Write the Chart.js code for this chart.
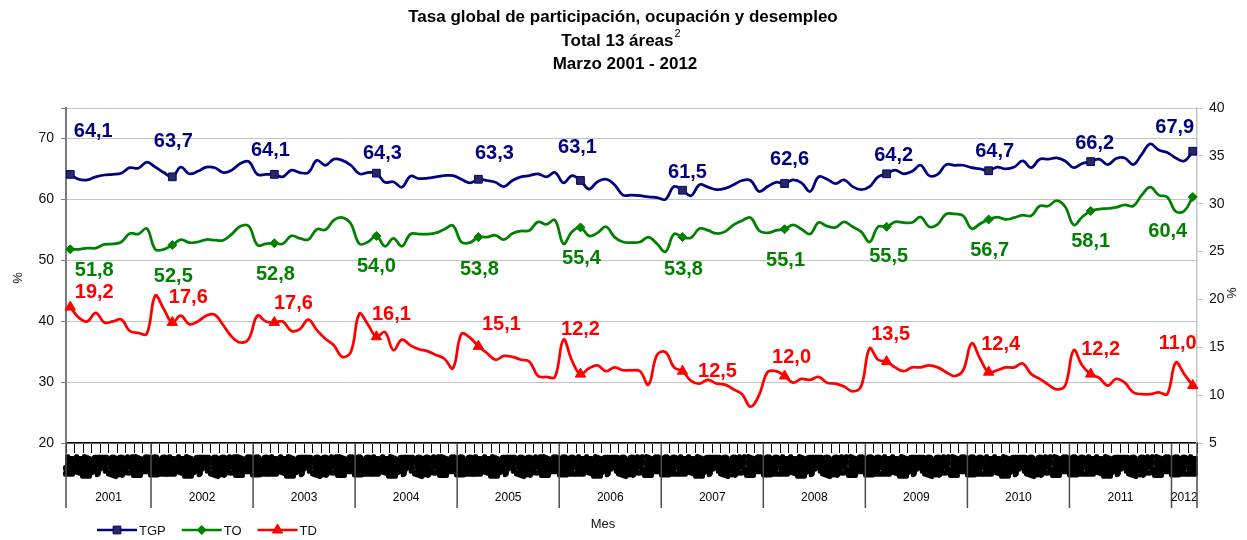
<!DOCTYPE html>
<html>
<head>
<meta charset="utf-8">
<title>Tasa global de participación, ocupación y desempleo</title>
<script src="https://cdn.jsdelivr.net/npm/chart.js@4/dist/chart.umd.min.js"></script>
<style>
    body { margin: 0; background: #ffffff; }
    #wrap { width: 1247px; height: 540px; }
</style>
</head>
<body>
<div id="wrap"><canvas id="chart" width="1247" height="540"></canvas></div>
<script>
    // Month names used for the (unreadable) monthly tick labels
    var monthNames = ['Ene', 'Feb', 'Mar', 'Abr', 'May', 'Jun', 'Jul', 'Ago', 'Sep', 'Oct', 'Nov', 'Dic'];
    var yearNames = ['2001', '2002', '2003', '2004', '2005', '2006', '2007', '2008', '2009', '2010', '2011', '2012'];

    // Series, monthly from Marzo 2001 to Marzo 2012 (133 months)
    var tgp = [
        64.1, 63.3, 63.2, 63.7, 64.0, 64.1, 64.3, 65.2, 65.1, 66.1, 65.3, 64.4,
        63.7, 65.3, 64.2, 64.6, 65.3, 65.2, 64.4, 64.8, 65.9, 66.2, 64.1, 64.1,
        64.1, 63.7, 64.8, 64.4, 64.4, 66.4, 65.6, 66.6, 66.4, 65.6, 64.2, 64.4,
        64.3, 62.8, 62.9, 62.0, 63.8, 63.4, 63.5, 63.7, 63.9, 63.9, 63.3, 62.7,
        63.3, 63.1, 62.8, 62.1, 63.1, 63.7, 63.9, 64.2, 63.7, 64.4, 62.7, 63.9,
        63.1, 61.7, 62.9, 63.3, 62.4, 60.7, 60.7, 60.6, 60.4, 60.3, 60.0, 62.1,
        61.5, 60.6, 62.4, 62.0, 61.6, 61.8, 62.4, 63.1, 63.1, 61.3, 62.1, 62.8,
        62.6, 63.2, 62.7, 61.3, 63.7, 63.3, 62.6, 63.2, 62.1, 61.6, 62.1, 63.7,
        64.2, 64.8, 64.2, 64.6, 65.6, 63.9, 64.1, 65.7, 65.6, 65.6, 65.2, 65.0,
        64.7, 65.3, 65.0, 65.3, 66.3, 65.2, 66.6, 66.6, 66.8, 66.3, 65.2, 65.9,
        66.2, 66.6, 65.7, 66.7, 66.8, 65.7, 67.4, 69.1, 68.1, 67.7, 66.8, 66.3,
        67.9
    ];
    var to = [
        51.8, 51.8, 52.0, 52.0, 52.6, 52.7, 53.0, 54.4, 54.3, 55.2, 51.8, 51.8,
        52.5, 53.4, 52.9, 53.0, 53.4, 53.3, 53.3, 54.3, 55.6, 55.6, 52.5, 52.7,
        52.8, 52.7, 54.0, 53.6, 53.4, 55.1, 55.0, 56.6, 57.0, 56.0, 52.7, 53.0,
        54.0, 52.3, 53.6, 52.3, 54.3, 54.3, 54.3, 54.5, 55.1, 55.7, 53.0, 52.9,
        53.8, 53.8, 54.1, 53.4, 54.4, 54.8, 54.9, 56.3, 55.9, 56.6, 52.7, 54.7,
        55.4, 54.0, 54.5, 55.5, 53.8, 53.0, 52.9, 53.0, 53.8, 52.7, 51.4, 54.3,
        53.8, 53.7, 55.2, 54.9, 54.4, 54.7, 55.8, 56.5, 57.0, 54.9, 54.5, 54.9,
        55.1, 55.8, 55.1, 54.3, 56.2, 55.6, 55.4, 56.3, 55.5, 54.7, 53.0, 55.5,
        55.5, 56.3, 56.2, 56.2, 57.1, 55.5, 55.9, 57.6, 57.6, 57.3, 55.2, 56.0,
        56.7, 57.1, 56.7, 57.0, 57.4, 57.3, 58.9, 58.9, 59.8, 58.8, 55.8, 57.1,
        58.1, 58.4, 58.5, 58.7, 59.1, 58.9, 60.7, 62.0, 60.7, 60.4, 58.0, 58.1,
        60.4
    ];
    var td = [
        19.2, 18.1, 17.7, 18.6, 17.6, 17.7, 17.9, 16.7, 16.5, 16.4, 20.4, 19.0,
        17.6, 18.3, 17.4, 17.7, 18.3, 18.4, 17.3, 16.1, 15.5, 15.9, 18.3, 17.7,
        17.6, 17.7, 16.7, 16.9, 17.9, 16.8, 15.9, 15.2, 14.0, 14.5, 18.5, 17.4,
        16.1, 16.6, 14.7, 15.8, 15.2, 14.8, 14.6, 14.2, 13.8, 12.8, 16.4, 16.0,
        15.1, 14.4, 13.7, 14.1, 14.0, 13.7, 13.5, 12.0, 11.9, 11.9, 15.8, 13.6,
        12.2, 12.8, 13.1, 12.5, 12.9, 12.6, 12.6, 12.5, 11.1, 14.2, 14.5, 12.9,
        12.5, 11.5, 11.2, 11.6, 11.2, 11.1, 10.6, 10.1, 8.8, 10.0, 12.4, 12.5,
        12.0, 11.3, 11.7, 11.6, 11.9, 11.3, 11.2, 10.9, 10.4, 10.9, 14.9, 13.7,
        13.5, 12.9, 12.5, 12.9, 12.9, 13.1, 12.9, 12.4, 12.0, 12.6, 15.4, 13.8,
        12.4, 12.6, 12.9, 12.9, 13.3, 12.2, 11.7, 11.1, 10.6, 11.0, 14.7, 13.1,
        12.2, 11.8, 11.0, 11.7, 11.3, 10.3, 10.1, 10.1, 10.3, 10.1, 13.4, 12.2,
        11.0
    ];

    // Axis ticks
    var leftTicks = [20, 30, 40, 50, 60, 70];
    var rightTicks = [5, 10, 15, 20, 25, 30, 35, 40];

    // Category list: month name + year, starting in Marzo 2001
    var categories = [];
    for (var i = 0; i < tgp.length; i++) {
        categories.push(monthNames[(i + 2) % 12] + ' ' + yearNames[Math.floor((i + 2) / 12)]);
    }

    // Data label nudges (pixels from the marker), one per March
    var LABELS = {
        TGP: {color: '#000080', dx: [23, 1, -4, 6, 16, -3, 5, 5, 7, 6, 4, -18], dy: [-43, -35, -24, -20, -26, -33, -18, -24, -18, -19, -18, -24]},
        TO: {color: '#008000', dx: [24, 1, 1, 0, 1, 1, 1, 1, 2, 1, 0, -25], dy: [21, 31, 31, 31, 32, 31, 32, 31, 30, 31, 31, 35]},
        TD: {color: '#ff0000', dx: [24, 16, 19, 15, 23, 0, 35, 7, 4, 12, 10, -15], dy: [-15, -25, -19, -22, -22, -45, 0, -19, -27, -28, -25, -42]}
    };

    var FONT = 'Arial, "Liberation Sans", sans-serif';

    function isMarch(c) {
        return c.dataIndex % 12 === 0;
    }

    function fmt(v) {
        return v.toFixed(1).replace('.', ',');
    }

    // Draws title, value labels, month blobs, years, axis titles and legend
    var decorPlugin = {
        id: 'decor',
        afterDatasetsDraw: function(chart) {
            var ctx = chart.ctx;
            ctx.save();
            ctx.font = 'bold 20px ' + FONT;
            ctx.textAlign = 'center';
            ctx.textBaseline = 'middle';
            chart.data.datasets.forEach(function(ds, di) {
                var meta = chart.getDatasetMeta(di);
                var cfg = LABELS[ds.label];
                ctx.fillStyle = cfg.color;
                for (var k = 0; k * 12 < ds.data.length; k++) {
                    var pt = meta.data[k * 12];
                    ctx.fillText(fmt(ds.data[k * 12]), pt.x + cfg.dx[k], pt.y + cfg.dy[k]);
                }
            });
            ctx.restore();
        },
        afterDraw: function(chart) {
            var ctx = chart.ctx;
            var xs = chart.scales.x;
            var area = chart.chartArea;
            var band = (area.right - area.left) / categories.length;

            ctx.save();

            // title
            ctx.fillStyle = '#000';
            ctx.textAlign = 'center';
            ctx.textBaseline = 'middle';
            ctx.font = 'bold 17px ' + FONT;
            ctx.fillText('Tasa global de participación, ocupación y desempleo', 623, 17);
            var t2 = 'Total 13 áreas';
            var w2 = ctx.measureText(t2).width;
            ctx.font = '11px ' + FONT;
            var ws = ctx.measureText('2').width;
            ctx.font = 'bold 17px ' + FONT;
            ctx.textAlign = 'left';
            var x2 = 621 - (w2 + ws + 1) / 2;
            ctx.fillText(t2, x2, 41);
            ctx.font = '11px ' + FONT;
            ctx.fillText('2', x2 + w2 + 1, 34);
            ctx.font = 'bold 17px ' + FONT;
            ctx.textAlign = 'center';
            ctx.fillText('Marzo 2001 - 2012', 625, 64);

            // monthly tick labels, drawn so dense they merge into black blocks
            ctx.font = 'bold 11px ' + FONT;
            ctx.fillStyle = '#000';
            ctx.strokeStyle = '#000';
            ctx.lineWidth = 4;
            ctx.lineJoin = 'round';
            ctx.textAlign = 'right';
            for (var i = 0; i < categories.length; i++) {
                var x = xs.getPixelForValue(i);
                ctx.save();
                ctx.translate(x, 456);
                ctx.rotate(-Math.PI / 2);
                var m = categories[i].split(' ')[0];
                ctx.strokeText(m, 0, 0);
                ctx.fillText(m, 0, 0);
                ctx.restore();
            }
            ctx.lineJoin = 'miter';

            // year separators and year names
            ctx.strokeStyle = '#4d4d4d';
            ctx.lineWidth = 1.5;
            ctx.font = '12px ' + FONT;
            ctx.textAlign = 'center';
            ctx.textBaseline = 'middle';
            var start = 0;
            for (var j = 0; j <= categories.length; j++) {
                var yr = j < categories.length ? categories[j].split(' ')[1] : null;
                var prev = categories[start].split(' ')[1];
                if (yr !== prev) {
                    var x0 = xs.getPixelForValue(start) - band / 2;
                    var x1 = xs.getPixelForValue(j - 1) + band / 2;
                    ctx.beginPath();
                    ctx.moveTo(x0, area.bottom);
                    ctx.lineTo(x0, area.bottom + 65);
                    ctx.stroke();
                    ctx.fillText(prev, (x0 + x1) / 2, area.bottom + 55);
                    if (j === categories.length) {
                        ctx.beginPath();
                        ctx.moveTo(x1, area.bottom);
                        ctx.lineTo(x1, area.bottom + 65);
                        ctx.stroke();
                    }
                    start = j;
                }
            }

            // axis titles
            ctx.font = '13px ' + FONT;
            ctx.fillStyle = '#111';
            ctx.fillText('Mes', 603, 524);
            ctx.save();
            ctx.translate(18, 278);
            ctx.rotate(-Math.PI / 2);
            ctx.fillText('%', 0, 0);
            ctx.restore();
            ctx.save();
            ctx.translate(1231, 293);
            ctx.rotate(Math.PI / 2);
            ctx.fillText('%', 0, 0);
            ctx.restore();

            // legend: line with marker, then name
            var lx = 97;
            var ly = 530;
            chart.data.datasets.forEach(function(ds) {
                ctx.strokeStyle = ds.borderColor;
                ctx.lineWidth = 2.5;
                ctx.beginPath();
                ctx.moveTo(lx, ly);
                ctx.lineTo(lx + 40, ly);
                ctx.stroke();
                ctx.fillStyle = ds.pointBackgroundColor;
                ctx.strokeStyle = ds.pointBorderColor;
                ctx.lineWidth = 1;
                Chart.helpers.drawPoint(ctx, {
                    pointStyle: ds.pointStyle,
                    radius: ds.legendRadius,
                    borderWidth: 1
                }, lx + 20, ly);
                ctx.font = '13px ' + FONT;
                ctx.fillStyle = '#111';
                ctx.textAlign = 'left';
                ctx.fillText(ds.label, lx + 42, ly + 1);
                lx += 42 + ctx.measureText(ds.label).width + 16;
            });

            ctx.restore();
        }
    };

    var ctx = document.getElementById('chart').getContext('2d');

    var chart = new Chart(ctx, {
        type: 'line',
        data: {
            labels: categories,
            datasets: [{
                label: 'TGP',
                data: tgp,
                yAxisID: 'y',
                borderColor: '#000080',
                borderWidth: 2.75,
                pointStyle: 'rect',
                pointBackgroundColor: '#2a2a5a',
                pointBorderColor: '#000080',
                pointBorderWidth: 1,
                pointRadius: function(c) { return isMarch(c) ? 5.5 : 0; },
                legendRadius: 5.5,
                tension: 0.4
            }, {
                label: 'TO',
                data: to,
                yAxisID: 'y',
                borderColor: '#008000',
                borderWidth: 2.75,
                pointStyle: 'rectRot',
                pointBackgroundColor: '#008000',
                pointBorderColor: '#008000',
                pointBorderWidth: 1,
                pointRadius: function(c) { return isMarch(c) ? 4.5 : 0; },
                legendRadius: 4.5,
                tension: 0.4
            }, {
                label: 'TD',
                data: td,
                yAxisID: 'y1',
                borderColor: '#ff0000',
                borderWidth: 2.75,
                pointStyle: 'triangle',
                pointBackgroundColor: '#ff0000',
                pointBorderColor: '#ff0000',
                pointBorderWidth: 1,
                pointRadius: function(c) { return isMarch(c) ? 6 : 0; },
                legendRadius: 6,
                tension: 0.4
            }]
        },
        options: {
            responsive: false,
            animation: false,
            events: [],
            layout: {padding: {top: 108, left: 0, right: 0, bottom: 0}},
            plugins: {
                legend: {display: false},
                title: {display: false},
                tooltip: {enabled: false}
            },
            scales: {
                x: {
                    type: 'category',
                    offset: true,
                    grid: {offset: true, drawOnChartArea: false, color: '#000', tickLength: 10, lineWidth: 1},
                    border: {color: '#000', width: 1.5},
                    ticks: {display: false, autoSkip: false},
                    afterFit: function(s) { s.height = 97; }
                },
                y: {
                    position: 'left',
                    min: 20,
                    max: 75,
                    afterBuildTicks: function(s) {
                        s.ticks = leftTicks.map(function(v) { return {value: v}; }).concat([{value: 75}]);
                    },
                    ticks: {
                        color: '#111',
                        font: {family: FONT, size: 14},
                        padding: 7,
                        callback: function(v) { return leftTicks.indexOf(v) >= 0 ? String(v) : ''; }
                    },
                    grid: {color: '#c4c4c4', lineWidth: 1, tickLength: 5, tickColor: '#808080'},
                    border: {color: '#7a7a7a', width: 2},
                    afterFit: function(s) { s.width = 66; }
                },
                y1: {
                    position: 'right',
                    min: 5,
                    max: 40,
                    afterBuildTicks: function(s) {
                        s.ticks = rightTicks.map(function(v) { return {value: v}; });
                    },
                    ticks: {
                        color: '#111',
                        font: {family: FONT, size: 14},
                        padding: 6
                    },
                    grid: {drawOnChartArea: false, tickLength: 6, color: '#c4c4c4'},
                    border: {color: '#c4c4c4', width: 1.5},
                    afterFit: function(s) { s.width = 50; }
                }
            }
        },
        plugins: [decorPlugin]
    });
</script>
</body>
</html>
